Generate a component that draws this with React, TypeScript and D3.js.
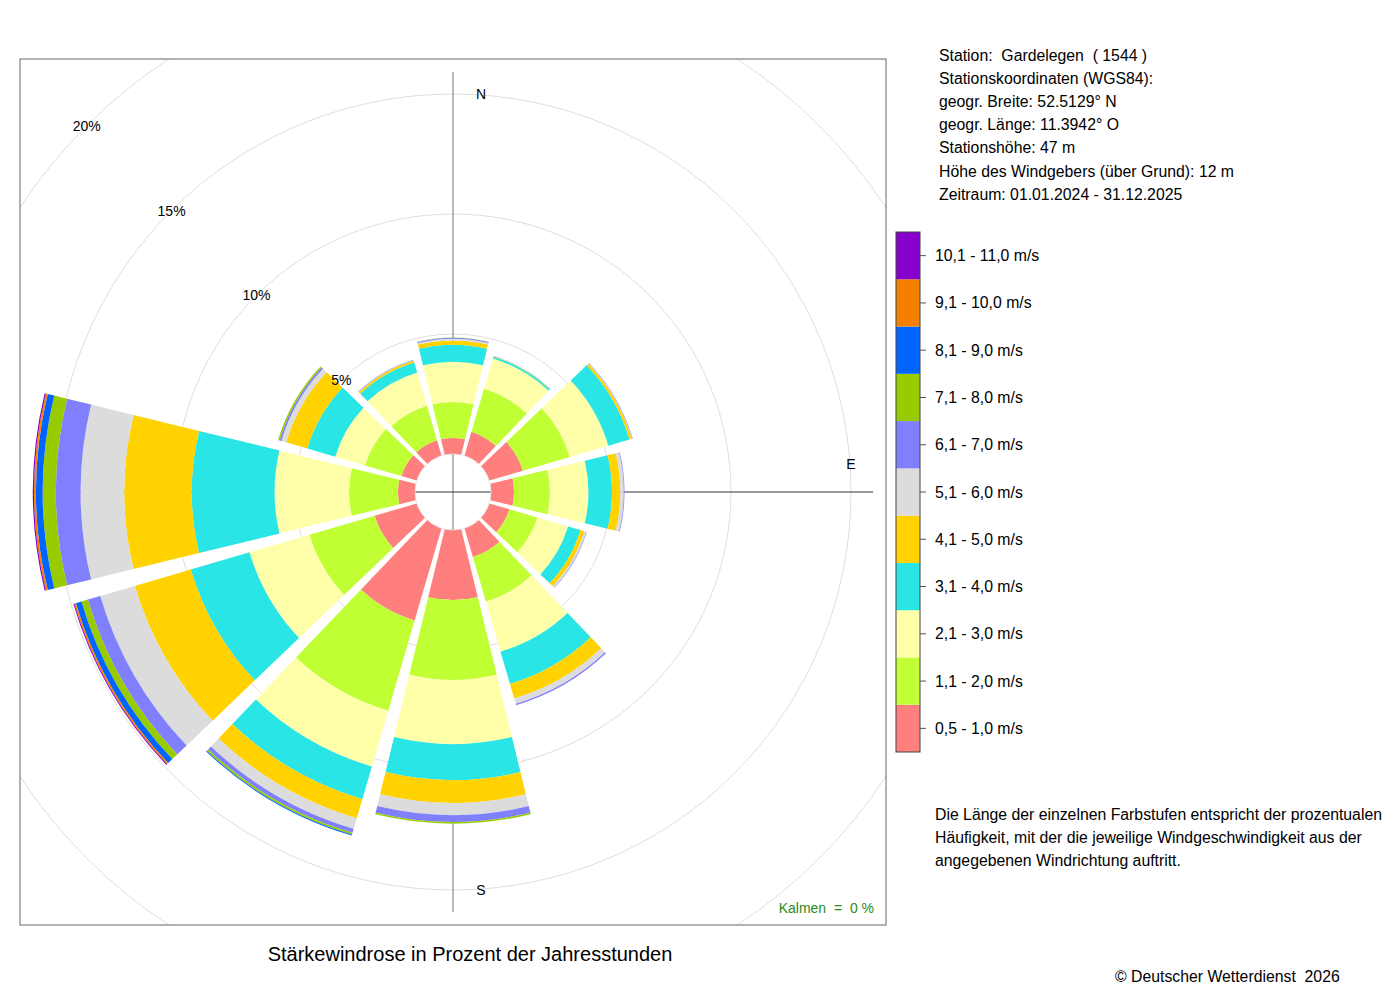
import React from 'react';
import * as d3 from 'd3';

// Richtungen in Grad (N = 0, im Uhrzeigersinn)
const directions = [0, 30, 60, 90, 120, 150, 180, 210, 240, 270, 300, 330];

// Prozent der Jahresstunden je Geschwindigkeitsklasse, Reihenfolge wie directions
const v05_10 = [0.67, 1.04, 1.46, 0.96, 0.88, 1.25, 2.92, 4.0, 1.83, 0.71, 0.67, 0.67];
const v11_20 = [1.5, 1.87, 2.04, 1.5, 1.21, 1.94, 3.33, 3.92, 2.83, 2.04, 1.58, 1.5];
const v21_30 = [1.67, 1.31, 1.67, 1.6, 1.33, 2.17, 2.67, 2.42, 2.6, 3.1, 1.29, 1.44];
const v31_40 = [0.71, 0.08, 0.92, 0.98, 0.54, 1.4, 1.5, 1.42, 2.55, 3.45, 1.21, 0.44];
const v41_50 = [0.18, 0.02, 0.1, 0.35, 0.17, 0.63, 0.95, 0.83, 2.43, 2.81, 0.92, 0.08];
const v51_60 = [0.07, 0.01, 0.02, 0.14, 0.08, 0.23, 0.51, 0.46, 1.5, 1.82, 0.21, 0.02];
const v61_70 = [0.04, 0.01, 0.02, 0.03, 0.02, 0.06, 0.28, 0.17, 0.54, 1.03, 0.08, 0.02];
const v71_80 = [0.01, 0, 0, 0, 0, 0, 0.07, 0.08, 0.28, 0.55, 0.06, 0];
const v81_90 = [0, 0, 0, 0, 0, 0, 0, 0.04, 0.24, 0.28, 0, 0];
const v91_100 = [0, 0, 0, 0, 0, 0, 0, 0, 0.07, 0.08, 0, 0];
const v101_110 = [0, 0, 0, 0, 0, 0, 0, 0, 0.04, 0.05, 0, 0];

const classValues = [v05_10, v11_20, v21_30, v31_40, v41_50, v51_60, v61_70, v71_80, v81_90, v91_100, v101_110];

const classLabels = [
  '0,5 - 1,0 m/s', '1,1 - 2,0 m/s', '2,1 - 3,0 m/s', '3,1 - 4,0 m/s', '4,1 - 5,0 m/s',
  '5,1 - 6,0 m/s', '6,1 - 7,0 m/s', '7,1 - 8,0 m/s', '8,1 - 9,0 m/s', '9,1 - 10,0 m/s', '10,1 - 11,0 m/s',
];
const classColors = [
  '#ff7f7f', '#bfff33', '#ffffaa', '#2ae5e5', '#ffd200', '#dcdcdc',
  '#8080ff', '#99cc00', '#0064ff', '#f58000', '#8800cc',
];

const ringTicks = [5, 10, 15, 20];
const compassLabels = [
  { text: 'N', angle: 0 },
  { text: 'E', angle: 90 },
  { text: 'S', angle: 180 },
];

const stationLines = [
  'Station:  Gardelegen  ( 1544 )',
  'Stationskoordinaten (WGS84):',
  'geogr. Breite: 52.5129° N',
  'geogr. Länge: 11.3942° O',
  'Stationshöhe: 47 m',
  'Höhe des Windgebers (über Grund): 12 m',
  'Zeitraum: 01.01.2024 - 31.12.2025',
];
const noteLines = [
  'Die Länge der einzelnen Farbstufen entspricht der prozentualen',
  'Häufigkeit, mit der die jeweilige Windgeschwindigkeit aus der',
  'angegebenen Windrichtung auftritt.',
];

const FONT = '"Liberation Sans", Arial, Helvetica, sans-serif';

export default function App() {
  const cx = 453;
  const cy = 492;
  const half = 433;
  const rad = Math.PI / 180;

  // radius = innerer Kreis + linear in Prozent
  const r = d3.scaleLinear().domain([0, 20]).range([38, 518]);

  const totals = directions.map((_, i) => d3.sum(classValues, (c) => c[i]));
  const rMax = r(d3.max(totals) || 0);

  const arc = d3.arc<any>()
    .padAngle(0.016)
    .padRadius(100);

  const halfWidth = 13.7;

  const segments: { d: string; fill: string; key: string }[] = [];
  directions.forEach((dir, i) => {
    let cum = 0;
    classValues.forEach((vals, k) => {
      const v = vals[i];
      if (v <= 0) return;
      const d = arc({
        innerRadius: r(cum),
        outerRadius: r(cum + v),
        startAngle: (dir - halfWidth) * rad,
        endAngle: (dir + halfWidth) * rad,
      });
      cum += v;
      segments.push({ d: d || '', fill: classColors[k], key: `${dir}-${k}` });
    });
  });

  // Legende
  const legX = 896;
  const legTop = 232;
  const legH = 520;
  const legBand = d3.scaleBand<number>()
    .domain(d3.range(classLabels.length).reverse())
    .range([legTop, legTop + legH]);

  return (
    <div style={{ position: 'absolute', left: 0, top: 0 }}>
      <svg width={1400} height={1000} style={{ display: 'block', background: '#fff', fontFamily: FONT }}>
        <defs>
          <clipPath id="plotclip">
            <rect x={cx - half} y={cy - half} width={half * 2} height={half * 2} />
          </clipPath>
        </defs>

        <g clipPath="url(#plotclip)">
          {ringTicks.map((t) => (
            <circle key={t} cx={cx} cy={cy} r={r(t)} fill="none" stroke="#dedede" strokeWidth={1} />
          ))}
        </g>

        <line x1={cx} x2={cx} y1={cy - rMax} y2={cy + rMax} stroke="#8a8a8a" strokeWidth={1.2} />
        <line x1={cx - rMax} x2={cx + rMax} y1={cy} y2={cy} stroke="#333" strokeWidth={1} />

        <g transform={`translate(${cx},${cy})`}>
          {segments.map((s) => (
            <path key={s.key} d={s.d} fill={s.fill} />
          ))}
          <circle r={r(0)} fill="none" stroke="#e6e6e6" strokeWidth={0.8} />
        </g>

        {/* Ringbeschriftung diagonal nach NW */}
        {ringTicks.map((t) => (
          <text
            key={t}
            x={cx - r(t) * Math.SQRT1_2}
            y={cy - r(t) * Math.SQRT1_2 + 5}
            fontSize={14}
            textAnchor="middle"
            fill="#000"
          >
            {t}%
          </text>
        ))}

        {compassLabels.map((c) => {
          const rr = r(15);
          const x = cx + rr * Math.sin(c.angle * rad);
          const y = cy - rr * Math.cos(c.angle * rad);
          const dx = c.angle === 90 ? 0 : 28;
          const dy = c.angle === 90 ? -28 : 0;
          return (
            <text key={c.text} x={x + dx} y={y + dy + 5} fontSize={14} textAnchor="middle" fill="#000">
              {c.text}
            </text>
          );
        })}

        <text x={874} y={913} fontSize={14} textAnchor="end" fill="#2a8c22" style={{ whiteSpace: 'pre' }}>
          {'Kalmen  =  0 %'}
        </text>

        <rect x={cx - half} y={cy - half} width={half * 2} height={half * 2} fill="none" stroke="#666" strokeWidth={1} />

        <text x={470} y={961} fontSize={20} textAnchor="middle" fill="#000">
          Stärkewindrose in Prozent der Jahresstunden
        </text>

        {stationLines.map((line, i) => (
          <text key={i} x={939} y={61 + i * 23.1} fontSize={15.8} fill="#000" style={{ whiteSpace: 'pre' }}>
            {line}
          </text>
        ))}

        {/* Legende */}
        {classLabels.map((lab, k) => {
          const y0 = legBand(k) || 0;
          const bw = legBand.bandwidth();
          return (
            <g key={lab}>
              <rect x={legX} y={y0} width={24} height={bw} fill={classColors[k]} />
              <line x1={legX + 24} x2={legX + 30} y1={y0 + bw / 2} y2={y0 + bw / 2} stroke="#555" strokeWidth={1} />
              <text x={935} y={y0 + bw / 2 + 5.5} fontSize={15.8} fill="#000">
                {lab}
              </text>
            </g>
          );
        })}
        <rect x={legX} y={legTop} width={24} height={legH} fill="none" stroke="#444" strokeWidth={1} />

        {noteLines.map((line, i) => (
          <text key={i} x={935} y={820 + i * 23} fontSize={15.8} fill="#000">
            {line}
          </text>
        ))}

        <text x={1115} y={982} fontSize={15.8} fill="#000" style={{ whiteSpace: 'pre' }}>
          {'© Deutscher Wetterdienst  2026'}
        </text>
      </svg>
    </div>
  );
}
